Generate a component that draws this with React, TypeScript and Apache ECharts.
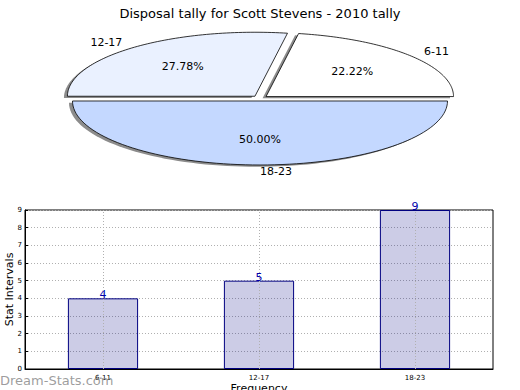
import React, { useEffect, useRef } from "react";
import * as echarts from "echarts";

const chartTitle = "Disposal tally for Scott Stevens - 2010 tally";
const categories = ["6-11", "12-17", "18-23"];
const values = [4, 5, 9];
const yTicks = [0, 1, 2, 3, 4, 5, 6, 7, 8, 9];
const pieColors = ["#ffffff", "#eaf1ff", "#c4d8ff"];

const FONT = "DejaVu Sans";

export default function App() {
  const ref = useRef<HTMLDivElement>(null);
  useEffect(() => {
    if (!ref.current) return;
    const chart = echarts.init(ref.current, null, { renderer: "svg" });
    const total = values.reduce((a, b) => a + b, 0);
    const cum: number[] = [];
    let acc = 0;
    values.forEach((v) => {
      cum.push(acc);
      acc += v;
    });
    const cx = 260, cy = 98.3, rx = 187.5, ry = 64, explode = 0.042;

    const renderItem = (params: any, api: any) => {
      const i = params.dataIndex;
      const v = api.value(1);
      const a0 = (cum[i] / total) * Math.PI * 2;
      const a1 = a0 + (v / total) * Math.PI * 2;
      const mid = (a0 + a1) / 2;
      const dx = explode * rx * Math.cos(mid);
      const dy = -explode * ry * Math.sin(mid);
      const ox = cx + dx, oy = cy + dy;
      const pts: number[][] = [[ox, oy]];
      const n = 80;
      for (let k = 0; k <= n; k++) {
        const t = a0 + ((a1 - a0) * k) / n;
        pts.push([ox + rx * Math.cos(t), oy - ry * Math.sin(t)]);
      }
      const sh = pts.map((p) => [p[0] - 3.5, p[1] + 1.8]);
      const lx = cx + (1.1 + explode) * rx * Math.cos(mid);
      const ly = cy - (1.1 + explode) * ry * Math.sin(mid);
      const px = cx + (0.6 + explode) * rx * Math.cos(mid);
      const py = cy - (0.6 + explode) * ry * Math.sin(mid);
      return {
        type: "group",
        children: [
          { type: "polygon", z2: 0, shape: { points: sh }, style: { fill: "#8c8c8c", stroke: "none" } },
          { type: "polygon", z2: 5, shape: { points: pts }, style: { fill: pieColors[i], stroke: "#000", lineWidth: 0.8 } },
          {
            type: "text", z2: 10,
            style: {
              text: categories[i], x: lx, y: ly, fill: "#000",
              font: `11px "${FONT}"`,
              align: Math.cos(mid) > -1e-9 ? "left" : "right",
              verticalAlign: "middle",
            },
          },
          {
            type: "text", z2: 10,
            style: {
              text: ((v / total) * 100).toFixed(2) + "%", x: px, y: py, fill: "#000",
              font: `11px "${FONT}"`, align: "center", verticalAlign: "middle",
            },
          },
        ],
      };
    };

    chart.setOption({
      animation: false,
      textStyle: { fontFamily: FONT },
      title: {
        text: chartTitle, left: "center", top: 2,
        textStyle: { fontSize: 13, fontWeight: "normal", color: "#000", fontFamily: FONT },
      },
      grid: {
        left: 25, top: 210, width: 468, height: 159,
        containLabel: false, outerBoundsMode: "none",
        show: true, borderColor: "#000", borderWidth: 1, backgroundColor: "transparent",
      },
      xAxis: {
        type: "category", data: categories,
        name: "Frequency", nameLocation: "middle", nameGap: 14,
        nameTextStyle: { fontSize: 11, color: "#000", fontFamily: FONT },
        axisLine: { lineStyle: { color: "#000" } },
        axisTick: { show: false },
        axisLabel: { fontSize: 7, color: "#000", margin: 5, fontFamily: FONT },
        splitLine: { show: false },
      },
      yAxis: {
        type: "value", min: yTicks[0], max: yTicks[yTicks.length - 1], interval: 1,
        name: "Stat Intervals", nameLocation: "middle", nameGap: 10, nameMoveOverlap: false,
        nameTextStyle: { fontSize: 11, color: "#000", fontFamily: FONT },
        axisLine: { show: true, lineStyle: { color: "#000" } },
        axisTick: { show: true, inside: true, length: 3, lineStyle: { color: "#000" } },
        axisLabel: { fontSize: 7, color: "#000", margin: 3, fontFamily: FONT },
        splitLine: { show: true, lineStyle: { color: "#b0b0b0", type: [1, 2], width: 1 } },
      },
      series: [
        {
          type: "custom",
          coordinateSystem: "none",
          renderItem,
          data: values.map((v, i) => [i, v]),
        },
        {
          type: "bar",
          data: values,
          barWidth: "45%",
          itemStyle: { color: "rgba(0,0,128,0.2)", borderColor: "#000080", borderWidth: 1 },
          label: { show: true, position: "top", distance: -2, color: "#0000aa", fontSize: 11, fontFamily: FONT },
          markLine: {
            silent: true, symbol: "none", label: { show: false },
            lineStyle: { color: "#b0b0b0", type: [1, 2], width: 1 },
            data: categories.map((c) => ({ xAxis: c })),
          },
        },
      ],
      graphic: [
        {
          type: "text", left: 0, top: 374, z: 100,
          style: { text: "Dream-Stats.com", fill: "rgba(140,140,140,0.85)", font: `13px "${FONT}"` },
        },
      ],
    });
    return () => chart.dispose();
  }, []);
  return <div ref={ref} style={{ width: 520, height: 390, position: "absolute", left: 0, top: 0 }} />;
}
